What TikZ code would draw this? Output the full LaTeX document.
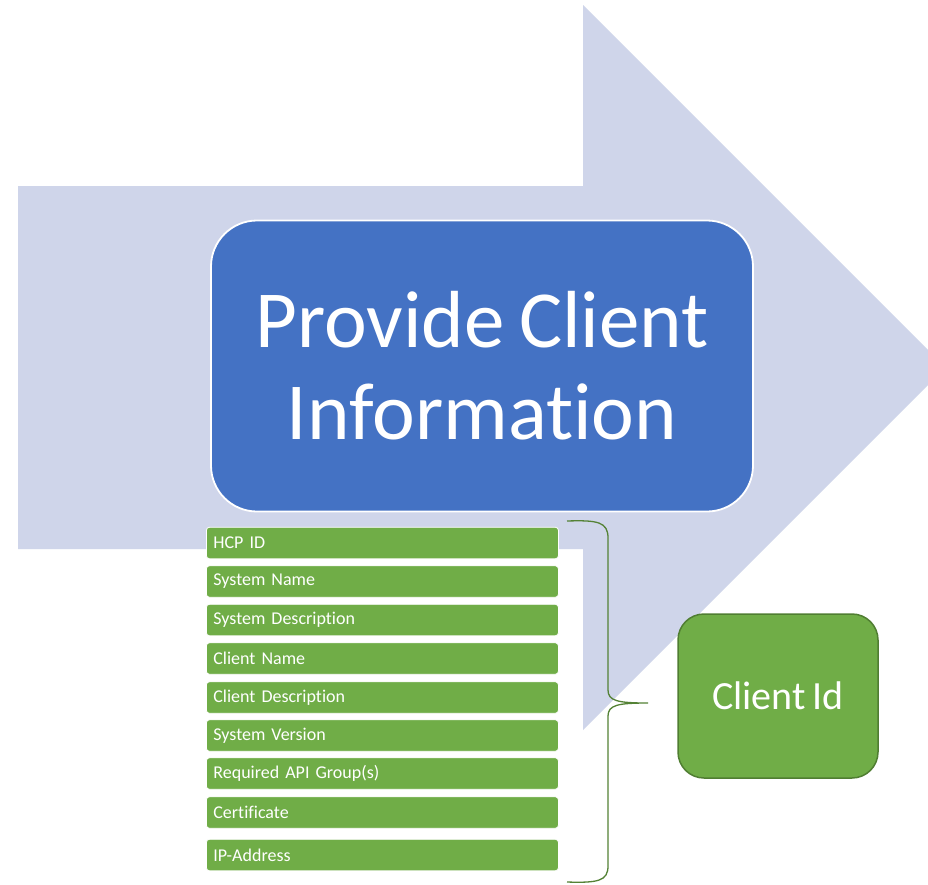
\documentclass[tikz,border=0pt]{standalone}
\usepackage{fontspec}
\setmainfont{Carlito}[RawFeature={-liga;-dlig;-clig}, WordSpace=0.8]
\definecolor{arrowfill}{HTML}{CFD5EA}
\definecolor{bluebox}{HTML}{4472C4}
\definecolor{greenbox}{HTML}{70AD47}
\definecolor{greenedge}{HTML}{507E32}
\definecolor{bracecol}{HTML}{548235}
\tikzset{
  item/.style={rectangle, rounded corners=3pt, fill=greenbox, draw=white, line width=0.8pt,
    text=white, font=\fontsize{18}{21}\selectfont, text width=338pt, inner xsep=7pt,
    minimum height=31.5pt, align=left, anchor=west},
  title/.style={rectangle, rounded corners=46pt, fill=bluebox, draw=white, line width=1.8pt,
    text=white, font=\fontsize{81}{92}\selectfont, align=center,
    minimum width=542pt, minimum height=291pt, inner sep=0pt},
  idbox/.style={rectangle, rounded corners=26pt, fill=greenbox, draw=greenedge, line width=1.5pt,
    text=white, font=\fontsize{40}{44}\selectfont,
    minimum width=200pt, minimum height=164pt, inner sep=0pt},
  bracestyle/.style={draw=bracecol, line width=1.3pt}
}
\begin{document}
\begin{tikzpicture}[x=1pt,y=-1pt]
\useasboundingbox (0,0) rectangle (928,884);
\fill[white] (0,0) rectangle (928,884);
\begin{scope}
\clip (0,0) rectangle (928,884);
\fill[arrowfill] (18,186) -- (583,186) -- (583,5) -- (945.5,367.5) -- (583,730) -- (583,549) -- (18,549) -- cycle;
\end{scope}
\node[title] (main) at (482,366) {Provide Client\\Information};
\node[item] (hcp) at (206,543) {HCP ID};
\node[item] (sysname) at (206,581.5) {System Name};
\node[item] (sysdesc) at (206,620) {System Description};
\node[item] (cliname) at (206,658.5) {Client Name};
\node[item] (clidesc) at (206,697.5) {Client Description};
\node[item] (sysver) at (206,735.5) {System Version};
\node[item] (api) at (206,773.5) {Required API Group(s)};
\node[item] (cert) at (206,812.5) {Certificate};
\node[item] (ip) at (206,855) {IP-Address};
\node[idbox] (clientid) at (778,696) {Client Id};
\coordinate (btop) at (567,521);
\coordinate (btip) at (648,703);
\coordinate (bbot) at (567,882);
\draw[bracestyle] (btop) .. controls (598,520) and (608,522) .. (608,538)
  -- (608,690) .. controls (608,701) and (618,703) .. (btip)
  .. controls (618,703) and (608,705) .. (608,716)
  -- (608,866) .. controls (608,881) and (598,883) .. (bbot);
\end{tikzpicture}
\end{document}
